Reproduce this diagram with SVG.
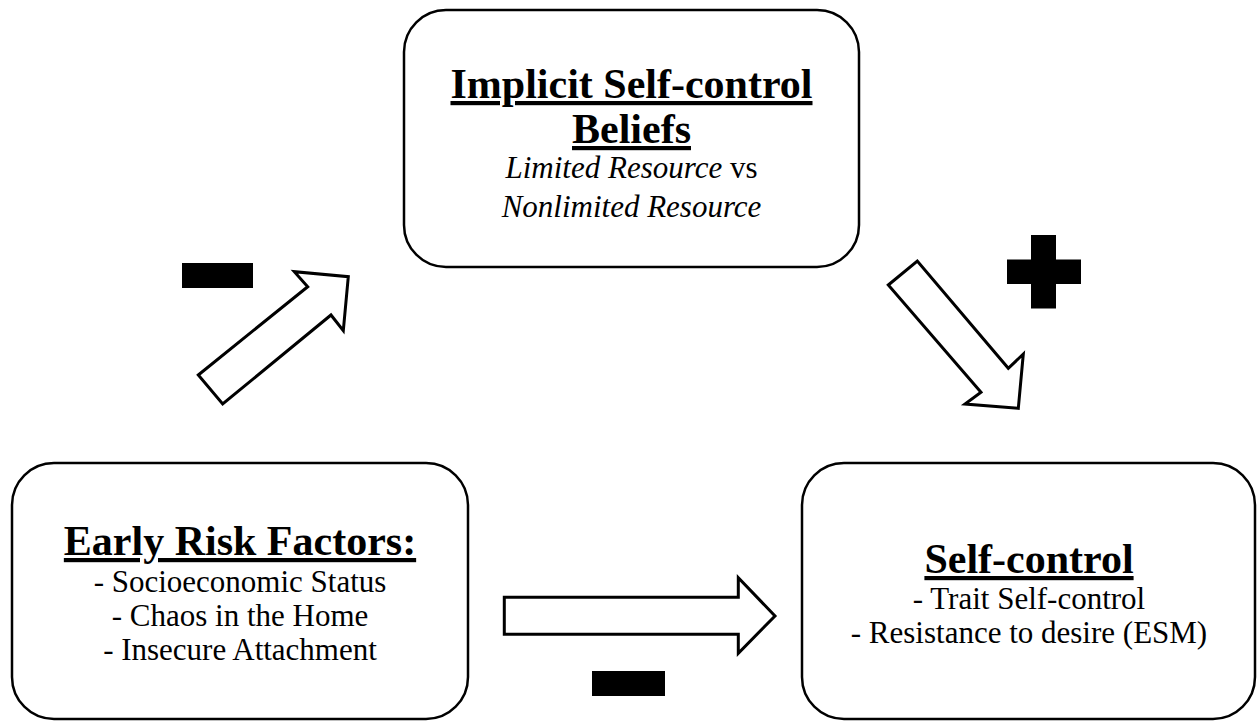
<svg xmlns="http://www.w3.org/2000/svg" width="1258" height="721" viewBox="0 0 1258 721">
<style>
.box{fill:#fff;stroke:#000;stroke-width:2.5}
.arrow{fill:#fff;stroke:#000;stroke-width:3;stroke-linejoin:miter}
.sign{fill:#000}
text{font-family:"Liberation Serif","Times New Roman",serif;fill:#000;text-anchor:middle}
.title{font-size:42px;font-weight:bold;text-decoration:underline}
.item{font-size:31px}
.it{font-style:italic}
</style>
<rect width="1258" height="721" fill="#fff"/>
<g id="connectors">
<polygon class="arrow" points="198.3,375 307.7,286.7 294.3,271.7 348.3,276.7 343.3,330.7 331,315 222.7,404"/>
<polygon class="arrow" points="888.3,285 917.3,261 1008.3,368.3 1023.3,354 1018.3,408.3 965,404 981,392.3"/>
<polygon class="arrow" points="504.3,597.3 738.3,597.3 738.3,577.7 775,616 738.3,653.3 738.3,634.3 504.3,634.3"/>
<rect class="sign" x="182" y="263" width="71" height="25"/>
<path class="sign" d="M1031,235H1056V259.5H1081V284H1056V308.5H1031V284H1007V259.5H1031Z"/>
<rect class="sign" x="592" y="671" width="73" height="25"/>
</g>
<g id="beliefs">
<rect class="box" x="404" y="10" width="455" height="257" rx="42"/>
<text class="title" x="631.5" y="98">Implicit Self-control</text>
<text class="title" x="631.5" y="143">Beliefs</text>
<text class="item" x="631.5" y="178"><tspan class="it">Limited Resource</tspan> vs</text>
<text class="item it" x="631.5" y="217">Nonlimited Resource</text>
</g>
<g id="risk">
<rect class="box" x="12" y="463" width="456" height="256" rx="42"/>
<text class="title" x="240" y="555">Early Risk Factors:</text>
<text class="item" x="240" y="592">- Socioeconomic Status</text>
<text class="item" x="240" y="626">- Chaos in the Home</text>
<text class="item" x="240" y="660">- Insecure Attachment</text>
</g>
<g id="selfcontrol">
<rect class="box" x="802" y="463" width="453" height="256" rx="42"/>
<text class="title" x="1029" y="573">Self-control</text>
<text class="item" x="1029" y="609">- Trait Self-control</text>
<text class="item" x="1029" y="643">- Resistance to desire (ESM)</text>
</g>
</svg>
